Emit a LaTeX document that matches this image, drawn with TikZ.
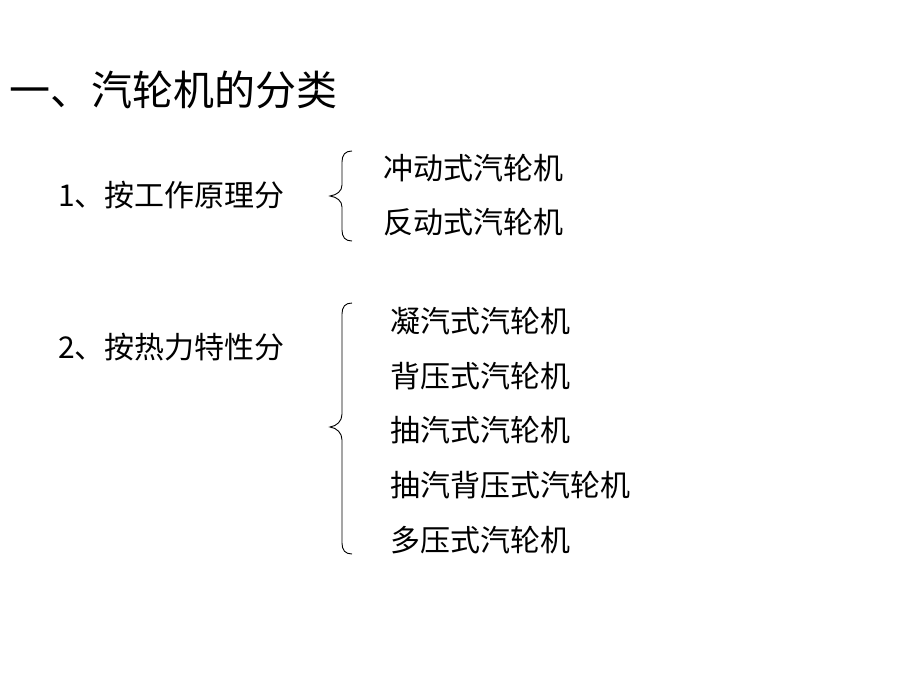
\documentclass[tikz,border=0pt]{standalone}
\usepackage{fontspec}
\setmainfont{Noto Sans CJK SC}
\begin{document}
\begin{tikzpicture}[x=1pt,y=-1pt,
  txt/.style={anchor=west,inner sep=0pt,font=\fontsize{30}{36}\selectfont},
  ttl/.style={anchor=west,inner sep=0pt,font=\fontsize{41}{50}\selectfont},
  brace/.style={draw=black,line width=0.9pt}]
\useasboundingbox (0,0) rectangle (920,690);
\node[ttl] (title) at (9,90) {一、汽轮机的分类};
\node[txt] (c1) at (58,195) {1、按工作原理分};
\node[txt] (a1) at (383,168) {冲动式汽轮机};
\node[txt] (a2) at (383,222) {反动式汽轮机};
\node[txt] (c2) at (58,347) {2、按热力特性分};
\node[txt] (b1) at (390,321) {凝汽式汽轮机};
\node[txt] (b2) at (390,376) {背压式汽轮机};
\node[txt] (b3) at (390,430) {抽汽式汽轮机};
\node[txt] (b4) at (390,485) {抽汽背压式汽轮机};
\node[txt] (b5) at (390,540) {多压式汽轮机};
% brace 1
\draw[brace] (352,151) .. controls (345,151) and (342,155) .. (342,162)
  -- (342,185) .. controls (342,191) and (337,195) .. (330,196)
  .. controls (337,197) and (342,201) .. (342,207)
  -- (342,230) .. controls (342,237) and (345,241) .. (352,241);
% brace 2
\draw[brace] (352,303) .. controls (345,303) and (342,307) .. (342,314)
  -- (342,414) .. controls (342,421) and (337,426) .. (330,427)
  .. controls (337,428) and (342,433) .. (342,440)
  -- (342,543) .. controls (342,550) and (345,554) .. (352,554);
\end{tikzpicture}
\end{document}
